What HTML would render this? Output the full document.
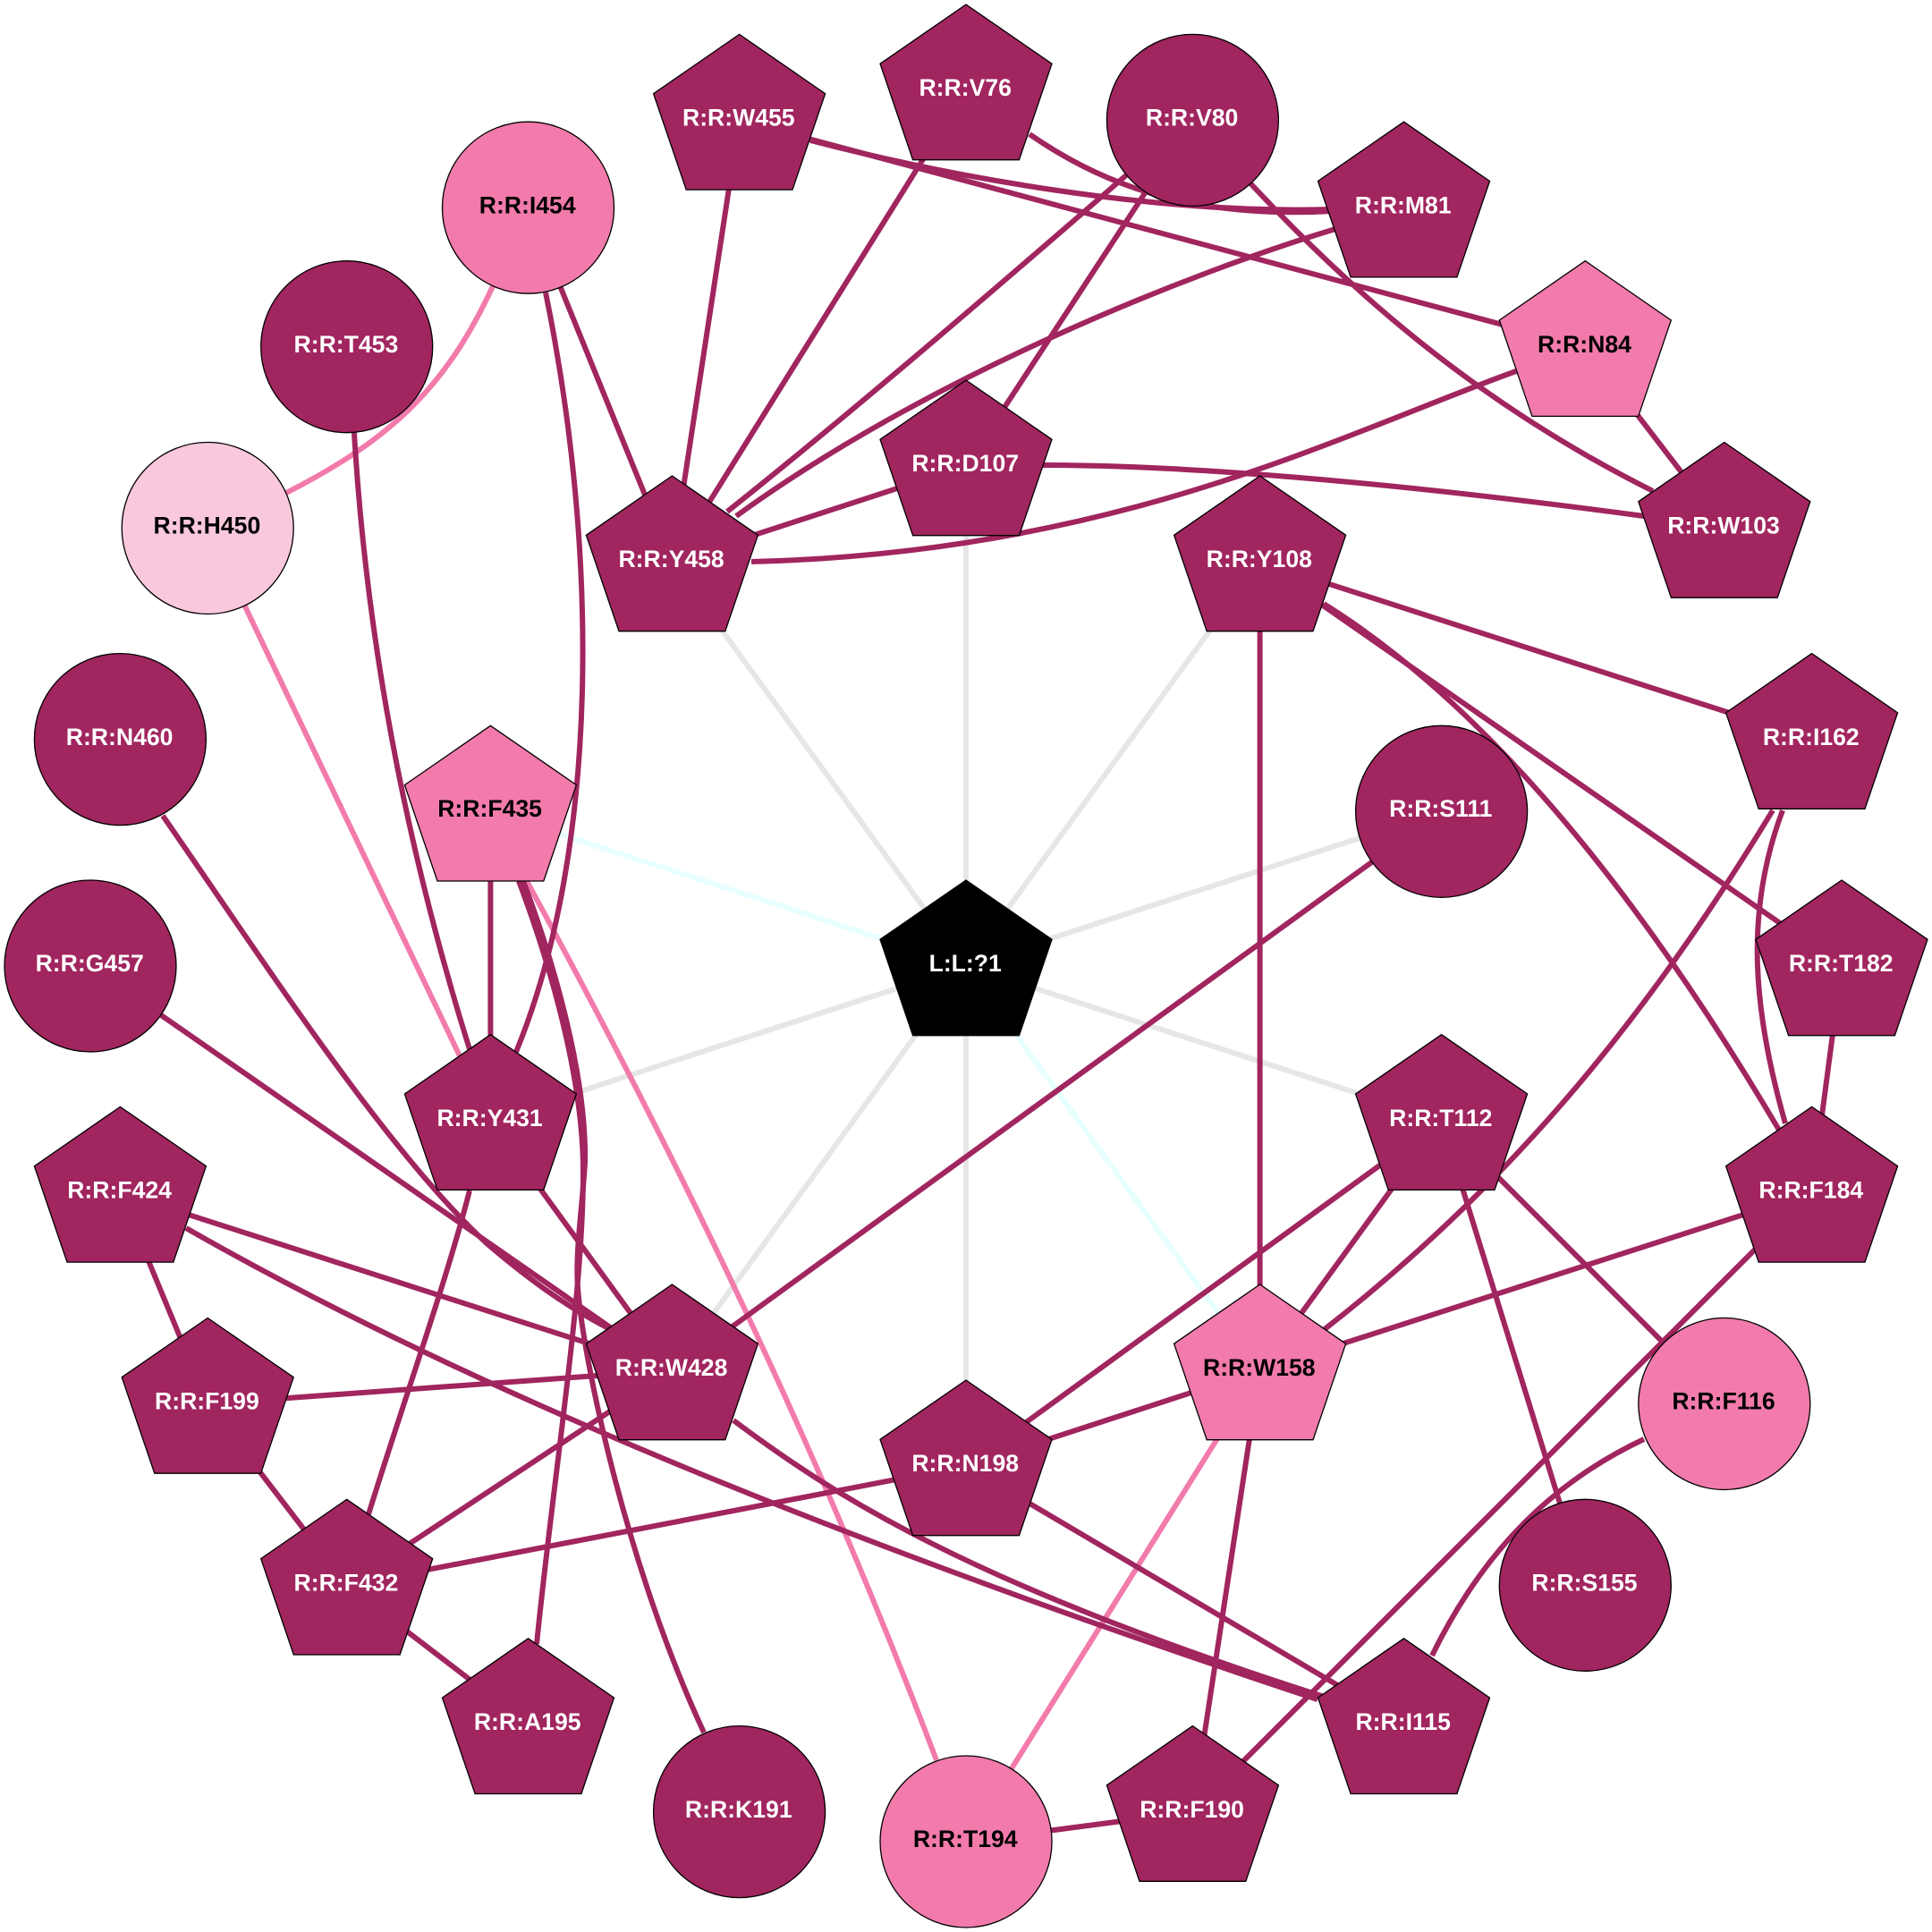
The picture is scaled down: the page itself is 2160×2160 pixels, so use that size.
<!DOCTYPE html>
<html><head><meta charset="utf-8"><style>
html,body{margin:0;padding:0;background:#fff}
svg{display:block}
text{font-family:"Liberation Sans",Arial,sans-serif;font-weight:bold;font-size:26.6px;text-anchor:middle}
.w{fill:#fff}.b{fill:#000}
.g line{stroke:#e6e6e6;stroke-width:6;fill:none}
.c line{stroke:#e8ffff;stroke-width:6;fill:none}
.d line,.d path{stroke:#a1255f;stroke-width:6;fill:none}
.p line,.p path{stroke:#f27bac;stroke-width:6;fill:none}
.n polygon,.n circle,.n use{stroke:#000;stroke-width:1.3}
</style></head><body>
<svg xmlns="http://www.w3.org/2000/svg" width="2160" height="2160" viewBox="0 0 2160 2160">
<rect width="2160" height="2160" fill="#fff"/>
<defs><polygon id="q" points="0,-96 96,-29.7 59.4,77.7 -59.4,77.7 -96,-29.7"/></defs>
<g class="g">
<line x1="1080" y1="1080" x2="751.4" y2="628"/>
<line x1="1080" y1="1080" x2="1080" y2="521"/>
<line x1="1080" y1="1080" x2="1408.6" y2="628"/>
<line x1="1080" y1="1080" x2="1611.6" y2="907.3"/>
<line x1="1080" y1="1080" x2="1611.6" y2="1252.7"/>
<line x1="1080" y1="1080" x2="1080" y2="1639"/>
<line x1="1080" y1="1080" x2="751.4" y2="1532"/>
<line x1="1080" y1="1080" x2="548.4" y2="1252.7"/>
</g>
<g class="c">
<line x1="1080" y1="1080" x2="548.4" y2="907.3"/>
<line x1="1080" y1="1080" x2="1408.6" y2="1532"/>
</g>
<g class="p">
<path d="M551,320 C500,430 440,490 320,551"/>
<line x1="232.2" y1="590.5" x2="548.4" y2="1252.7"/>
<path d="M589,985 C700,1190 885,1540 1047,1968"/>
<line x1="1408.6" y1="1532" x2="1080" y2="2059"/>
</g>
<g class="d">
<line x1="826.6" y1="134.4" x2="751.4" y2="628"/>
<line x1="1080" y1="101" x2="751.4" y2="628"/>
<path d="M1259,196 C1130,308 960,455 813,572"/>
<path d="M1493,256 C1330,305 1040,420 823,577"/>
<line x1="1080" y1="521" x2="751.4" y2="628"/>
<path d="M1695,415 C1500,485 1250,618 840,628"/>
<line x1="590.5" y1="232.2" x2="751.4" y2="628"/>
<line x1="1333.4" y1="134.4" x2="1080" y2="521"/>
<path d="M906,157 C1060,197 1290,240 1490,234"/>
<path d="M1151,150 C1230,205 1330,245 1490,236"/>
<line x1="826.6" y1="134.4" x2="1772.3" y2="387.7"/>
<path d="M1398,205 C1510,325 1650,450 1848,549"/>
<line x1="1772.3" y1="387.7" x2="1927.8" y2="590.5"/>
<path d="M1166,520 C1350,520 1600,545 1838,577"/>
<line x1="1408.6" y1="628" x2="1408.6" y2="1532"/>
<line x1="1408.6" y1="628" x2="2025.6" y2="826.6"/>
<line x1="1408.6" y1="628" x2="2059" y2="1080"/>
<path d="M1480,675 C1640,775 1810,960 1990,1265"/>
<path d="M1982,906 C1870,1090 1720,1300 1481,1486"/>
<path d="M1993,906 C1950,1020 1960,1130 1996,1256"/>
<line x1="2059" y1="1080" x2="2025.6" y2="1333.4"/>
<line x1="1611.6" y1="907.3" x2="751.4" y2="1532"/>
<line x1="1611.6" y1="1252.7" x2="1080" y2="1639"/>
<line x1="1611.6" y1="1252.7" x2="1408.6" y2="1532"/>
<line x1="1611.6" y1="1252.7" x2="1772.3" y2="1772.3"/>
<line x1="1611.6" y1="1252.7" x2="1927.8" y2="1569.5"/>
<line x1="2025.6" y1="1333.4" x2="1408.6" y2="1532"/>
<line x1="2025.6" y1="1333.4" x2="1333.4" y2="2025.6"/>
<line x1="1408.6" y1="1532" x2="1080" y2="1639"/>
<line x1="1408.6" y1="1532" x2="1333.4" y2="2025.6"/>
<path d="M1838,1609 C1740,1655 1660,1730 1601,1851"/>
<line x1="1080" y1="1639" x2="1569.5" y2="1927.8"/>
<line x1="1080" y1="1639" x2="387.7" y2="1772.3"/>
<line x1="1080" y1="2059" x2="1333.4" y2="2025.6"/>
<path d="M208,1373 C500,1540 900,1710 1473,1900"/>
<path d="M820,1588 C930,1670 1080,1770 1490,1900"/>
<line x1="134.4" y1="1333.4" x2="751.4" y2="1532"/>
<line x1="134.4" y1="1333.4" x2="232.2" y2="1569.5"/>
<line x1="232.2" y1="1569.5" x2="751.4" y2="1532"/>
<line x1="232.2" y1="1569.5" x2="387.7" y2="1772.3"/>
<line x1="387.7" y1="1772.3" x2="751.4" y2="1532"/>
<path d="M412,1693 C450,1570 500,1430 525,1331"/>
<line x1="387.7" y1="1772.3" x2="590.5" y2="1927.8"/>
<line x1="548.4" y1="1252.7" x2="751.4" y2="1532"/>
<line x1="101" y1="1080" x2="751.4" y2="1532"/>
<path d="M182,912 C285,1060 430,1285 544,1390 C585,1425 630,1460 690,1490"/>
<path d="M610,327 C670,620 670,950 577,1176"/>
<path d="M396,484 C410,720 455,950 525,1173"/>
<line x1="548.4" y1="907.3" x2="548.4" y2="1252.7"/>
<path d="M580,985 C612,1070 652,1200 652,1310 C652,1450 620,1640 600,1838"/>
<path d="M585,985 C617,1070 656,1200 654,1300 C651,1350 643,1400 646,1440 C652,1520 700,1750 787,1937"/>
</g>
<g class="n">
<use href="#q" x="1080" y="1080" fill="#000"/>
<use href="#q" x="751.4" y="628" fill="#a1255f"/>
<use href="#q" x="1080" y="521" fill="#a1255f"/>
<use href="#q" x="1408.6" y="628" fill="#a1255f"/>
<circle cx="1611.6" cy="907.3" r="96" fill="#a1255f"/>
<use href="#q" x="1611.6" y="1252.7" fill="#a1255f"/>
<use href="#q" x="1408.6" y="1532" fill="#f27bac"/>
<use href="#q" x="1080" y="1639" fill="#a1255f"/>
<use href="#q" x="751.4" y="1532" fill="#a1255f"/>
<use href="#q" x="548.4" y="1252.7" fill="#a1255f"/>
<use href="#q" x="548.4" y="907.3" fill="#f27bac"/>
<use href="#q" x="2059" y="1080" fill="#a1255f"/>
<use href="#q" x="2025.6" y="826.6" fill="#a1255f"/>
<use href="#q" x="1927.8" y="590.5" fill="#a1255f"/>
<use href="#q" x="1772.3" y="387.7" fill="#f27bac"/>
<use href="#q" x="1569.5" y="232.2" fill="#a1255f"/>
<circle cx="1333.4" cy="134.4" r="96" fill="#a1255f"/>
<use href="#q" x="1080" y="101" fill="#a1255f"/>
<use href="#q" x="826.6" y="134.4" fill="#a1255f"/>
<circle cx="590.5" cy="232.2" r="96" fill="#f27bac"/>
<circle cx="387.7" cy="387.7" r="96" fill="#a1255f"/>
<circle cx="232.2" cy="590.5" r="96" fill="#f9c8dd"/>
<circle cx="134.4" cy="826.6" r="96" fill="#a1255f"/>
<circle cx="101" cy="1080" r="96" fill="#a1255f"/>
<use href="#q" x="134.4" y="1333.4" fill="#a1255f"/>
<use href="#q" x="232.2" y="1569.5" fill="#a1255f"/>
<use href="#q" x="387.7" y="1772.3" fill="#a1255f"/>
<use href="#q" x="590.5" y="1927.8" fill="#a1255f"/>
<circle cx="826.6" cy="2025.6" r="96" fill="#a1255f"/>
<circle cx="1080" cy="2059" r="96" fill="#f27bac"/>
<use href="#q" x="1333.4" y="2025.6" fill="#a1255f"/>
<use href="#q" x="1569.5" y="1927.8" fill="#a1255f"/>
<circle cx="1772.3" cy="1772.3" r="96" fill="#a1255f"/>
<circle cx="1927.8" cy="1569.5" r="96" fill="#f27bac"/>
<use href="#q" x="2025.6" y="1333.4" fill="#a1255f"/>
</g>
<g transform="translate(-0.8,-0.8)">
<text class="w" x="1080" y="1087">L:L:?1</text>
<text class="w" x="751.4" y="635">R:R:Y458</text>
<text class="w" x="1080" y="528">R:R:D107</text>
<text class="w" x="1408.6" y="635">R:R:Y108</text>
<text class="w" x="1611.6" y="914">R:R:S111</text>
<text class="w" x="1611.6" y="1260">R:R:T112</text>
<text class="b" x="1408.6" y="1539">R:R:W158</text>
<text class="w" x="1080" y="1646">R:R:N198</text>
<text class="w" x="751.4" y="1539">R:R:W428</text>
<text class="w" x="548.4" y="1260">R:R:Y431</text>
<text class="b" x="548.4" y="914">R:R:F435</text>
<text class="w" x="2059" y="1087">R:R:T182</text>
<text class="w" x="2025.6" y="833.6">R:R:I162</text>
<text class="w" x="1927.8" y="597.5">R:R:W103</text>
<text class="b" x="1772.3" y="394.7">R:R:N84</text>
<text class="w" x="1569.5" y="239.2">R:R:M81</text>
<text class="w" x="1333.4" y="141.4">R:R:V80</text>
<text class="w" x="1080" y="108">R:R:V76</text>
<text class="w" x="826.6" y="141.4">R:R:W455</text>
<text class="b" x="590.5" y="239.2">R:R:I454</text>
<text class="w" x="387.7" y="394.7">R:R:T453</text>
<text class="b" x="232.2" y="597.5">R:R:H450</text>
<text class="w" x="134.4" y="833.6">R:R:N460</text>
<text class="w" x="101" y="1087">R:R:G457</text>
<text class="w" x="134.4" y="1340.4">R:R:F424</text>
<text class="w" x="232.2" y="1576.5">R:R:F199</text>
<text class="w" x="387.7" y="1779.3">R:R:F432</text>
<text class="w" x="590.5" y="1934.8">R:R:A195</text>
<text class="w" x="826.6" y="2032.6">R:R:K191</text>
<text class="b" x="1080" y="2066">R:R:T194</text>
<text class="w" x="1333.4" y="2032.6">R:R:F190</text>
<text class="w" x="1569.5" y="1934.8">R:R:I115</text>
<text class="w" x="1772.3" y="1779.3">R:R:S155</text>
<text class="b" x="1927.8" y="1576.5">R:R:F116</text>
<text class="w" x="2025.6" y="1340.4">R:R:F184</text>
</g>
</svg>
</body></html>
